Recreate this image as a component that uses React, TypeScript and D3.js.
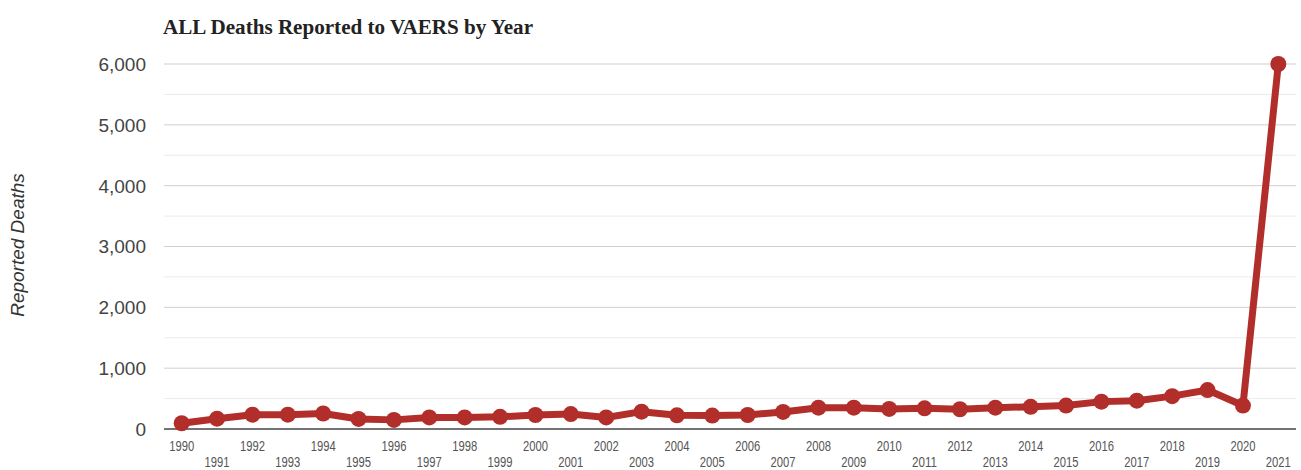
import React from "react";
import * as d3 from "d3";

const years: string[] = [
  "1990","1991","1992","1993","1994","1995","1996","1997","1998","1999",
  "2000","2001","2002","2003","2004","2005","2006","2007","2008","2009",
  "2010","2011","2012","2013","2014","2015","2016","2017","2018","2019",
  "2020","2021",
];
const deaths: number[] = [
  95, 170, 235, 235, 255, 165, 150, 190, 190, 200,
  230, 245, 190, 285, 225, 220, 230, 280, 350, 350,
  330, 340, 325, 350, 365, 385, 450, 465, 540, 640,
  385, 6000,
];
const yTicks: number[] = [0, 1000, 2000, 3000, 4000, 5000, 6000];
const yMinorTicks: number[] = [500, 1500, 2500, 3500, 4500, 5500];

const W = 1301;
const H = 470;
const left = 164;
const right = 1296;
const top = 64;
const bottom = 429;

export default function App() {
  const x = d3.scalePoint<string>().domain(years).range([left, right]).padding(0.5);
  const y = d3.scaleLinear().domain([0, 6000]).range([bottom, top]);
  const line = d3
    .line<number>()
    .x((_, i) => x(years[i]) as number)
    .y((d) => y(d));
  const fmt = d3.format(",");
  const color = "#b22e2a";

  return (
    <svg
      width={W}
      height={H}
      style={{ position: "absolute", left: 0, top: 0, background: "#fff" }}
    >
      <text
        x={163}
        y={34}
        fontFamily="'Liberation Serif', 'Times New Roman', serif"
        fontWeight="bold"
        fontSize={20}
        textLength={370}
        lengthAdjust="spacingAndGlyphs"
        fill="#222"
      >
        ALL Deaths Reported to VAERS by Year
      </text>

      {yMinorTicks.map((t) => (
        <line key={"m" + t} x1={left} x2={right} y1={y(t)} y2={y(t)} stroke="#ebebeb" strokeWidth={1} />
      ))}
      {yTicks.filter((t) => t !== 0).map((t) => (
        <line key={"g" + t} x1={left} x2={right} y1={y(t)} y2={y(t)} stroke="#cfcfcf" strokeWidth={1} />
      ))}
      <line x1={left} x2={right} y1={y(0)} y2={y(0)} stroke="#444" strokeWidth={1.5} />

      {yTicks.map((t) => (
        <text
          key={"l" + t}
          x={146}
          y={y(t)}
          dy="0.36em"
          textAnchor="end"
          fontFamily="'Liberation Sans', Arial, sans-serif"
          fontSize={19}
          fill="#444"
        >
          {fmt(t)}
        </text>
      ))}

      <text
        transform={`translate(24,245) rotate(-90)`}
        textAnchor="middle"
        fontFamily="'Liberation Sans', Arial, sans-serif"
        fontStyle="italic"
        fontSize={19}
        fill="#333"
      >
        Reported Deaths
      </text>

      {years.map((yr, i) => (
        <text
          key={"x" + yr}
          x={x(yr) as number}
          y={i % 2 === 0 ? 451 : 467}
          textAnchor="middle"
          fontFamily="'Liberation Sans', Arial, sans-serif"
          fontSize={15}
          textLength={25}
          lengthAdjust="spacingAndGlyphs"
          fill="#555"
        >
          {yr}
        </text>
      ))}

      <path d={line(deaths) || ""} fill="none" stroke={color} strokeWidth={7} strokeLinejoin="round" />
      {deaths.map((d, i) => (
        <circle key={"c" + i} cx={x(years[i]) as number} cy={y(d)} r={8} fill={color} />
      ))}
    </svg>
  );
}
